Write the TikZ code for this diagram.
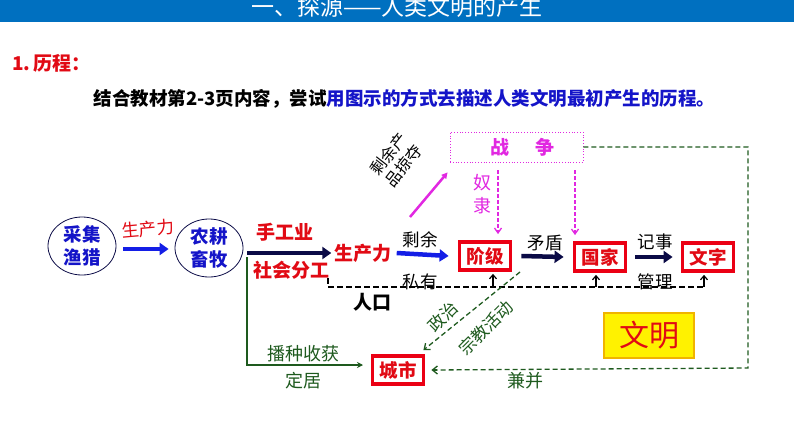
\documentclass[tikz,border=0pt]{standalone}
\usepackage{fontspec}
\setmainfont{Noto Sans CJK SC}
\usetikzlibrary{arrows.meta,calc,shapes.geometric}
\definecolor{hdrblue}{RGB}{0,112,192}
\definecolor{myred}{RGB}{225,10,20}
\definecolor{boxred}{RGB}{235,0,20}
\definecolor{navy}{RGB}{10,10,70}
\definecolor{bblue}{RGB}{20,30,230}
\definecolor{txtblue}{RGB}{20,20,200}
\definecolor{mag}{RGB}{225,40,225}
\definecolor{dgreen}{RGB}{30,90,30}
\definecolor{gold}{RGB}{240,180,0}
\newcommand{\fsz}[1]{\fontsize{#1}{#1}\selectfont}
\tikzset{
  ell/.style={draw=navy, line width=0.8pt, ellipse, minimum width=68pt, minimum height=58pt, inner sep=0pt,
    text=txtblue, font=\bfseries\fontsize{18.5}{23}\selectfont, align=center},
  redbox/.style={draw=boxred, line width=3.8pt, minimum width=51pt, minimum height=28pt, inner sep=0pt,
    text=myred, font=\bfseries\fsz{18.5}},
  bigarrow/.style={line width=4.5pt, -{Triangle[length=9pt,width=12pt]}},
  lbl/.style={font=\fsz{17.5}, inner sep=1pt},
  redlbl/.style={text=myred, font=\bfseries\fsz{19}, inner sep=1pt},
  glbl/.style={text=dgreen, font=\fsz{18}, inner sep=1pt},
  gdash/.style={draw=dgreen, line width=1.3pt, dash pattern=on 5pt off 3pt},
  magdash/.style={draw=mag, line width=1.3pt, dash pattern=on 4pt off 2pt, -{Straight Barb[length=5pt,width=7pt]}},
  smallup/.style={line width=1.2pt, -{Straight Barb[length=4pt,width=7pt]}},
}
\begin{document}
\begin{tikzpicture}[x=1pt,y=-1pt]
\useasboundingbox (0,0) rectangle (794,447);
\clip (0,0) rectangle (794,447);
% header
\fill[hdrblue] (0,0) rectangle (794,22);
\node[text=white, font=\fsz{23}] (title) at (397,7) {一、探源——人类文明的产生};
\node[text=myred, font=\bfseries\fsz{19}, anchor=west, inner sep=0pt] (h1) at (12,63) {1.\,历程：};
\node[font=\bfseries\fsz{18.5}, anchor=west] (intro) at (90,99) {结合教材第2-3页内容，尝试\textcolor{txtblue}{用图示的方式去描述人类文明最初产生的历程。}};

% ellipses
\node[ell] (e1) at (82,246) {采集\\渔猎};
\node[ell] (e2) at (209,248) {农耕\\畜牧};
\draw[bigarrow, bblue] ([xshift=7pt,yshift=-3pt]e1.east) -- ([xshift=-6pt,yshift=-1pt]e2.west);
\node[text=myred, font=\fsz{17.5}, rotate=5, inner sep=1pt] (sc1) at (148,229) {生产力};

% productivity
\node[redlbl] (p2) at (363,253) {生产力};
\node[redlbl] (sg) at (285,232) {手工业};
\node[redlbl] (fg) at (291,270) {社会分工};
\draw[bigarrow, navy] ($(e2.east |- p2.west)+(4,0)$) -- ([xshift=-2pt]p2.west);

% green settlement line
\coordinate (g0) at (247,257);
\coordinate (g1) at (363,365);
\draw[dgreen, line width=2.5pt, -{Stealth[length=6pt,width=6pt]}] (g0) |- (g1);
\node[glbl] (bz) at (303,354) {播种收获};
\node[glbl] (dj) at (303,381) {定居};

% class, state, writing
\node[redbox] (jj) at (485,256) {阶级};
\node[redbox] (gj) at (600,257) {国家};
\node[redbox] (wz) at (708,257) {文字};
\draw[bigarrow, bblue] ([xshift=4pt]p2.east) -- ([xshift=-9pt]jj.west);
\node[lbl] (sy) at (420,240) {剩余};
\node[lbl] (sy2) at (420,282) {私有};
\draw[bigarrow, navy] ([xshift=9pt]jj.east) -- ([xshift=-9pt]gj.west);
\node[lbl] (md) at (545,243) {矛盾};
\draw[bigarrow, navy] ([xshift=8pt]gj.east) -- ([xshift=-8pt]wz.west);
\node[lbl] (js) at (655,242) {记事};
\node[lbl] (gl) at (655,282) {管理};

% population dashed line
\coordinate (dl0) at (328,278);
\coordinate (dl) at (328,287);
\coordinate (dl1) at ($(wz.south |- dl)+(-4,0)$);
\draw[line width=1.5pt, dash pattern=on 6pt off 3pt] (dl0) -- (dl) -- (dl1);
\draw[smallup] ($(jj.south |- dl)+(8,0)$) -- ($(jj.south)+(8,2)$);
\draw[smallup] ($(gj.south |- dl)+(-4,0)$) -- ($(gj.south)+(-4,2)$);
\draw[smallup] (dl1) -- ($(wz.south)+(-4,2)$);
\node[font=\bfseries\fsz{19}] (rk) at (372,302) {人口};

% war
\node[draw=mag, dotted, line width=0.8pt, minimum width=133pt, minimum height=30pt] (war) at (516.5,147) {};
\node[text=mag, font=\bfseries\fsz{19}] (wartxt) at (522,147) {战\hspace{26pt}争};
\coordinate (m0) at (410,217);
\draw[mag, line width=2.5pt, -{Triangle[length=6pt,width=6pt]}] (m0) -- ($(war.south west)+(-2,10)$);
\node[lbl, rotate=52, align=center, font=\fontsize{16}{19}\selectfont] (lue) at (396,160) {剩余产\\品掠夺};
\draw[magdash] ($(war.south -| jj.north)+(13,8)$) -- ($(jj.north)+(13,-6)$);
\draw[magdash] ($(war.south -| gj.north)+(-25,8)$) -- ($(gj.north)+(-25,-6)$);
\node[text=mag, font=\fontsize{18}{23}\selectfont, align=center] (nl) at (482,194) {奴\\隶};

% city
\node[redbox] (city) at (398,370) {城市};
\coordinate (gc) at (748,368);
\draw[gdash] (war.east) -| (gc) -- ([xshift=7pt]city.east);
\draw[dgreen, line width=1.3pt, -{Straight Barb[length=5pt,width=8pt]}] ([xshift=12pt]city.east) -- ([xshift=6pt]city.east);
\node[glbl] (jb) at (525,381) {兼并};
\coordinate (d0) at (520,272);
\draw[gdash, -{Straight Barb[length=5pt,width=8pt]}] (d0) -- ($(city.north east)+(-2,-4)$);
\node[glbl, font=\fsz{17}, rotate=45] (zz) at (443,317) {政治};
\node[glbl, font=\fsz{17}, rotate=45] (zj) at (486,328) {宗教活动};

% civilization
\node[draw=gold, fill=yellow, line width=2.5pt, minimum width=90pt, minimum height=45pt,
  text=myred, font=\fsz{30}] (wm) at (649,335.5) {文明};
\end{tikzpicture}
\end{document}
